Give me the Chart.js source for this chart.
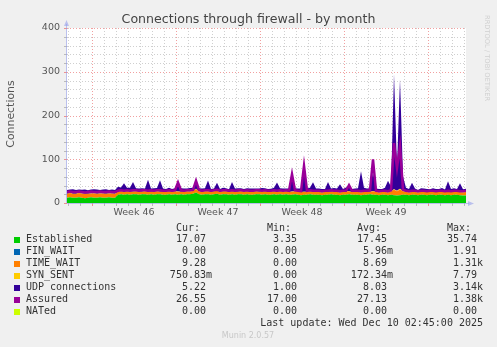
<!DOCTYPE html>
<html lang="en">
<head>
    <meta charset="UTF-8">
    <title>Connections through firewall - by month</title>
    <script src="https://cdn.jsdelivr.net/npm/chart.js"></script>
    <style>
        body { margin: 0; background: #f0f0f0; }
        canvas { display: block; }
    </style>
</head>
<body>
    <canvas id="myChart" width="497" height="347"></canvas>
    <script>
        // time axis in days, 0 = start of week 46, one sample every 6 hours
        const xStart = -25 / 12;
        const step = 0.25;

        const established = [
            12,13,12,12,13,12,11,12,13,12,12,13,
            12,12,13,12,12,19,20,19,20,19,20,20,
            19,20,20,19,20,19,20,20,19,19,20,19,
            20,19,20,19,20,20,21,24,20,19,20,20,
            19,20,21,19,20,20,19,20,19,20,20,19,
            20,19,19,20,20,19,20,19,19,20,19,20,
            19,20,19,19,20,19,18,19,19,20,19,19,
            19,18,19,19,20,19,19,18,19,19,20,19,
            19,19,18,19,19,20,19,19,18,19,19,18,
            19,18,17,18,19,19,18,19,19,18,19,19,
            18,19,19,18,19,19,18,19,18,19,19,18,
            17,17];
        const finWait = [
            0,0,0,0,0,0,0,0,0,0,0,0,
            0,0,0,0,0,0,0,0,0,0,0,0,
            0,0,0,0,0,0,0,0,0,0,0,0,
            0,0,0,0,0,0,0,0,0,0,0,0,
            0,0,0,0,0,0,0,0,0,0,0,0,
            0,0,0,0,0,0,0,0,0,0,0,0,
            0,0,0,0,0,0,0,0,0,0,0,0,
            0,0,0,0,0,0,0,0,0,0,0,0,
            0,0,0,0,0,0,0,0,0,0,0,0,
            0,0.1,0,0.1,0,0,0,0,0,0,0,0,
            0,0,0,0,0,0,0,0,0,0,0,0,
            0,0];
        const timeWait = [
            9,10,9,9,10,9,10,9,9,10,9,9,
            10,9,9,10,9,7,7,6,7,7,6,7,
            7,6,7,7,6,7,7,6,7,7,7,6,
            7,7,6,7,7,6,7,8,7,6,7,7,
            6,7,7,6,7,7,6,7,7,6,7,7,
            7,6,7,7,6,7,7,6,7,7,6,7,
            7,7,6,7,7,8,7,6,7,7,6,7,
            7,6,7,7,6,7,7,6,7,8,7,6,
            7,7,6,7,7,6,8,7,6,7,7,6,
            8,12,10,13,8,7,6,7,7,6,7,7,
            7,6,7,7,6,7,7,6,7,7,6,7,
            7,9];
        const synSent = [
            0,0,0.2,0,0,0.5,0,0,0,0.3,0,0,
            0,0.2,0,0,0,0,0.4,0,0,0,0.2,0,
            0,0,0.3,0,0,0,0.2,0,0,0,0,0.2,
            0,0.3,0,0,0,0.2,0,0.5,0,0,0,0.2,
            0,0,0.2,0,0,0,0.3,0,0,0,0,0.2,
            0,0.2,0,0,0,0.2,0,0,0.3,0,0,0,
            0,0,0.2,0.4,0,0,0,0.5,0,0,0.2,0,
            0,0.2,0,0,0,0.2,0,0,0,0.3,0,0,
            0,0,0.4,0,0,0,0.6,0,0,0.2,0,0,
            0.3,1.2,0.8,1.4,0.3,0,0,0.2,0,0,0,0,
            0,0.2,0,0,0,0.2,0,0,0.2,0,0,0,
            0.5,0.8];
        const udp = [
            9,8,10,9,8,9,10,8,9,9,10,8,
            9,10,8,9,9,11,8,20,8,9,22,7,
            7,8,6,27,7,8,7,26,7,6,8,7,
            7,21,8,7,6,8,7,19,7,8,7,24,
            7,6,18,7,8,7,6,21,7,8,7,6,
            7,8,7,6,7,8,7,7,6,8,22,7,
            7,6,8,44,7,6,8,57,7,8,22,7,
            7,8,6,22,7,8,7,19,6,8,11,7,
            7,8,48,9,7,8,43,7,8,6,9,27,
            10,263,55,250,33,9,8,20,7,6,8,7,
            7,6,8,7,7,8,6,25,7,8,7,20,
            7,6];
        const assured = [
            25,26,25,25,26,25,24,25,26,25,25,26,
            25,25,26,25,25,28,29,28,29,28,29,29,
            28,29,29,28,29,28,29,29,28,28,29,28,
            29,47,29,28,29,29,30,51,30,28,29,29,
            28,29,30,28,29,29,28,29,28,29,29,28,
            29,28,28,29,29,28,29,28,28,29,28,29,
            28,29,28,66,29,28,27,85,28,29,28,28,
            28,27,28,28,29,28,28,27,28,28,41,28,
            28,28,27,28,28,29,100,28,27,28,28,27,
            29,137,80,130,30,28,27,28,28,27,28,28,
            27,28,28,27,28,28,27,28,27,28,28,27,
            27,28];

        const weekLabels = ['Week 46', 'Week 47', 'Week 48', 'Week 49'];
        const seriesNames = ['Established', 'FIN_WAIT', 'TIME_WAIT', 'SYN_SENT', 'UDP connections', 'Assured', 'NATed'];
        const seriesColors = ['#00CC00', '#0066B3', '#FF8000', '#FFCC00', '#330099', '#990099', '#CCFF00'];
        const curValues = ['17.07', '0.00', '9.28', '750.83m', '5.22', '26.55', '0.00'];
        const minValues = ['3.35', '0.00', '0.00', '0.00', '1.00', '17.00', '0.00'];
        const avgValues = ['17.45', '5.96m', '8.69', '172.34m', '8.03', '27.13', '0.00'];
        const maxValues = ['35.74', '1.91', '1.31k', '7.79', '3.14k', '1.38k', '0.00'];

        const toPoints = arr => arr.map((v, i) => ({ x: xStart + i * step, y: v }));

        function area(label, values, color, fill) {
            return {
                label: label,
                data: toPoints(values),
                backgroundColor: color,
                borderColor: color,
                borderWidth: 0,
                pointRadius: 0,
                tension: 0,
                fill: fill,
                stack: 'conn'
            };
        }

        // grid, axes and all the rrdtool style text
        const muninPlugin = {
            id: 'munin',
            beforeDraw(chart) {
                const { ctx, chartArea: a } = chart;
                ctx.save();
                ctx.fillStyle = '#f0f0f0';
                ctx.fillRect(0, 0, chart.width, chart.height);
                ctx.fillStyle = '#ffffff';
                ctx.fillRect(a.left, a.top, a.right - a.left, a.bottom - a.top);
                ctx.restore();
            },
            beforeDatasetsDraw(chart) {
                const { ctx, chartArea: a, scales: { x, y } } = chart;
                ctx.save();
                ctx.lineWidth = 1;
                ctx.setLineDash([1, 2]);
                for (let d = Math.ceil(x.min); d <= x.max; d++) {
                    const px = Math.round(x.getPixelForValue(d)) + 0.5;
                    ctx.strokeStyle = d % 7 === 0 ? 'rgba(235,120,120,0.7)' : 'rgba(160,160,160,0.5)';
                    ctx.beginPath();
                    ctx.moveTo(px, a.top);
                    ctx.lineTo(px, a.bottom);
                    ctx.stroke();
                }
                for (let v = 20; v <= 400; v += 20) {
                    const py = Math.round(y.getPixelForValue(v)) + 0.5;
                    ctx.strokeStyle = v % 100 === 0 ? 'rgba(235,120,120,0.7)' : 'rgba(160,160,160,0.5)';
                    ctx.beginPath();
                    ctx.moveTo(a.left, py);
                    ctx.lineTo(a.right, py);
                    ctx.stroke();
                }
                ctx.restore();
            },
            afterDraw(chart) {
                const { ctx, chartArea: a, scales: { x, y } } = chart;
                ctx.save();

                // tick marks
                ctx.lineWidth = 1;
                for (let v = 0; v <= 400; v += 20) {
                    const py = Math.round(y.getPixelForValue(v)) + 0.5;
                    ctx.strokeStyle = v % 100 === 0 ? 'rgba(235,120,120,0.8)' : 'rgba(150,150,150,0.6)';
                    ctx.beginPath();
                    ctx.moveTo(a.left - 3, py);
                    ctx.lineTo(a.left, py);
                    ctx.stroke();
                }
                for (let d = Math.ceil(x.min); d <= x.max; d++) {
                    const px = Math.round(x.getPixelForValue(d)) + 0.5;
                    ctx.strokeStyle = d % 7 === 0 ? 'rgba(235,120,120,0.8)' : 'rgba(150,150,150,0.6)';
                    ctx.beginPath();
                    ctx.moveTo(px, a.bottom);
                    ctx.lineTo(px, a.bottom + 3);
                    ctx.stroke();
                }

                // axes with arrows
                ctx.strokeStyle = 'rgba(150,160,235,0.6)';
                ctx.fillStyle = 'rgba(150,160,235,0.6)';
                ctx.beginPath();
                ctx.moveTo(a.left - 0.5, a.bottom);
                ctx.lineTo(a.left - 0.5, a.top - 4);
                ctx.moveTo(a.left, a.bottom + 0.5);
                ctx.lineTo(a.right + 3, a.bottom + 0.5);
                ctx.stroke();
                ctx.beginPath();
                ctx.moveTo(a.left - 3, a.top - 2);
                ctx.lineTo(a.left + 2, a.top - 2);
                ctx.lineTo(a.left - 0.5, a.top - 8);
                ctx.closePath();
                ctx.fill();
                ctx.beginPath();
                ctx.moveTo(a.right + 2, a.bottom - 2);
                ctx.lineTo(a.right + 2, a.bottom + 3);
                ctx.lineTo(a.right + 8, a.bottom + 0.5);
                ctx.closePath();
                ctx.fill();

                // title
                ctx.fillStyle = '#444';
                ctx.textBaseline = 'middle';
                ctx.textAlign = 'center';
                ctx.font = '12.6px "DejaVu Sans"';
                ctx.fillText('Connections through firewall - by month', 248.5, 19.5);

                // week labels
                ctx.fillStyle = '#555';
                ctx.font = '9.5px "DejaVu Sans"';
                weekLabels.forEach((lab, k) => {
                    ctx.fillText(lab, x.getPixelForValue(3.5 + 7 * k), 212.5);
                });

                // vertical axis title
                ctx.save();
                ctx.translate(11, 114);
                ctx.rotate(-Math.PI / 2);
                ctx.font = '10.9px "DejaVu Sans"';
                ctx.fillText('Connections', 0, 0);
                ctx.restore();

                // rrdtool credit
                ctx.save();
                ctx.translate(487, 15);
                ctx.rotate(Math.PI / 2);
                ctx.textAlign = 'left';
                ctx.fillStyle = '#d0d0d0';
                ctx.font = '6.7px "DejaVu Sans"';
                ctx.fillText('RRDTOOL / TOBI OETIKER', 0, 0);
                ctx.restore();

                // legend table
                ctx.font = '10px "DejaVu Sans Mono"';
                const cw = ctx.measureText('0').width;
                const colEnds = [212, 303, 393, 483];
                const heads = ['Cur:', 'Min:', 'Avg:', 'Max:'];
                const cols = [curValues, minValues, avgValues, maxValues];
                ctx.fillStyle = '#333';
                ctx.textAlign = 'right';
                heads.forEach((h, c) => ctx.fillText(h, colEnds[c] - 2 * cw, 228));
                seriesNames.forEach((name, r) => {
                    const ry = 239.5 + r * 12.05;
                    ctx.fillStyle = seriesColors[r];
                    ctx.fillRect(14, Math.round(ry) - 3, 6, 6);
                    ctx.fillStyle = '#333';
                    ctx.textAlign = 'left';
                    ctx.fillText(name, 26, ry);
                    ctx.textAlign = 'right';
                    cols.forEach((col, c) => {
                        const s = col[r];
                        const hasUnit = /[mk]$/.test(s);
                        ctx.fillText(s, colEnds[c] - (hasUnit ? 0 : cw), ry);
                    });
                });
                ctx.fillText('Last update: Wed Dec 10 02:45:00 2025', 483, 323.5);

                ctx.textAlign = 'center';
                ctx.fillStyle = '#c8c8c8';
                ctx.font = '8px "DejaVu Sans"';
                ctx.fillText('Munin 2.0.57', 248, 336);
                ctx.restore();
            }
        };

        const ctx = document.getElementById('myChart').getContext('2d');
        const chart = new Chart(ctx, {
            type: 'line',
            data: {
                datasets: [
                    area('Established', established, '#00CC00', 'origin'),
                    area('FIN_WAIT', finWait, '#0066B3', '-1'),
                    area('TIME_WAIT', timeWait, '#FF8000', '-1'),
                    area('SYN_SENT', synSent, '#FFCC00', '-1'),
                    area('UDP connections', udp, '#330099', '-1'),
                    {
                        label: 'Assured',
                        data: toPoints(assured),
                        borderColor: '#990099',
                        borderWidth: 2.5,
                        pointRadius: 0,
                        tension: 0,
                        fill: false,
                        stack: 'assured',
                        order: -1
                    }
                ]
            },
            options: {
                responsive: false,
                animation: false,
                devicePixelRatio: 1,
                layout: { padding: { top: 28, right: 31, bottom: 144, left: 0 } },
                plugins: {
                    legend: { display: false },
                    title: { display: false },
                    tooltip: { enabled: false }
                },
                scales: {
                    x: {
                        type: 'linear',
                        display: false,
                        min: xStart,
                        max: xStart + (established.length - 1) * step
                    },
                    y: {
                        stacked: true,
                        min: 0,
                        max: 400,
                        grid: { display: false, drawTicks: false },
                        border: { display: false },
                        ticks: {
                            stepSize: 100,
                            padding: 7,
                            color: '#555',
                            font: { family: 'DejaVu Sans', size: 9.5 }
                        },
                        afterFit: scale => { scale.width = 67; }
                    }
                }
            },
            plugins: [muninPlugin]
        });
    </script>
</body>
</html>
